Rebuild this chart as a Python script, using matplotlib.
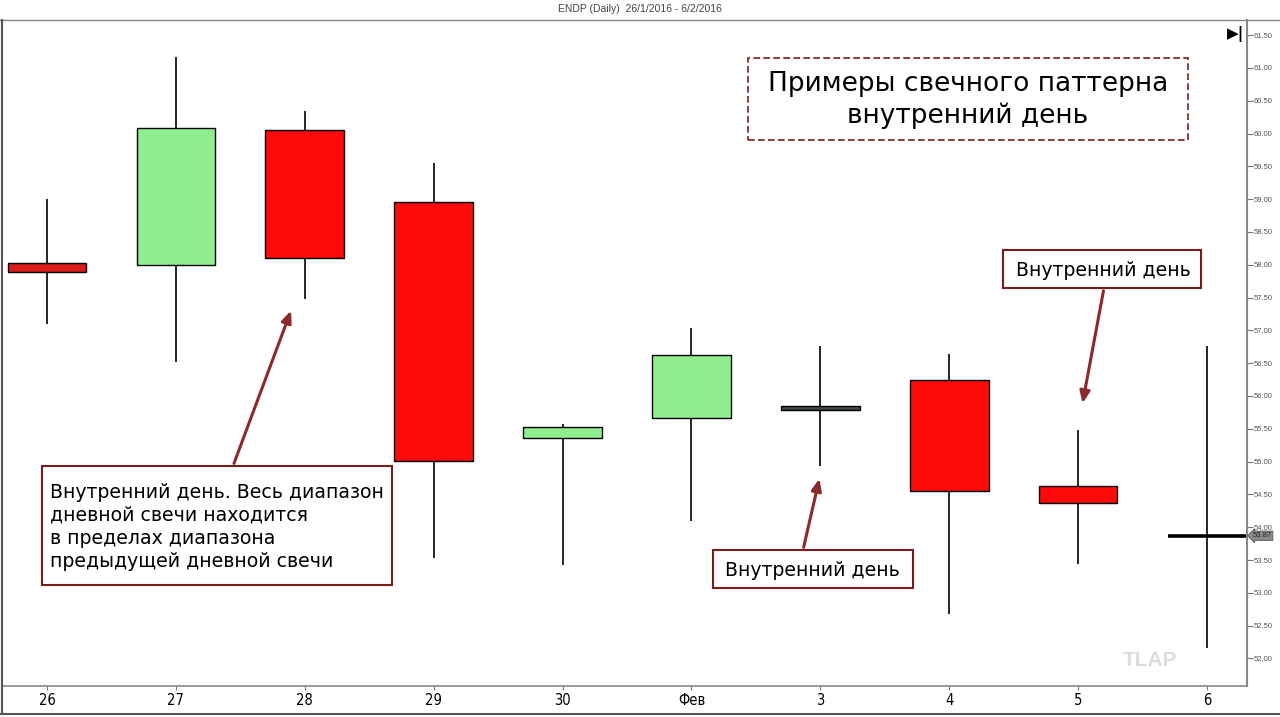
import matplotlib.pyplot as plt
from matplotlib.patches import Rectangle
from matplotlib.transforms import Affine2D
import numpy as np

plt.rcParams['font.family'] = ['Liberation Sans', 'DejaVu Sans']

# daily candles, ENDP 26/1/2016 - 6/2/2016
days = ['26', '27', '28', '29', '30', 'Фев', '3', '4', '5', '6']
opens = [58.02, 57.99, 60.05, 58.95, 55.36, 55.66, 55.84, 56.24, 54.63, 53.87]
closes = [57.89, 60.08, 58.10, 55.01, 55.52, 56.62, 55.79, 54.55, 54.37, 53.87]
highs = [59.00, 61.16, 60.34, 59.55, 55.57, 57.03, 56.76, 56.64, 55.48, 56.76]
lows = [57.09, 56.52, 57.48, 53.53, 53.42, 54.09, 54.93, 52.67, 53.44, 52.16]
last_price = 53.87
y_ticks = np.arange(52.0, 61.51, 0.5)

W, H = 1280, 717
fig = plt.figure(figsize=(W / 100, H / 100), dpi=100)
ax = fig.add_axes([3 / W, 31 / H, 1244 / W, 666 / H])

# pixel coords measured from the top-left corner
T = Affine2D().scale(1, -1).translate(0, H)

x = np.arange(len(days))
w = 0.61
for i in x:
    o, c, h, l = opens[i], closes[i], highs[i], lows[i]
    ax.vlines(i, l, h, color='black', lw=1.2, zorder=1)
    if o == c:
        ax.hlines(o, i - w / 2, i + w / 2, color='black', lw=2.6, zorder=2)
        continue
    if abs(o - c) < 0.06:
        col = '#3d4848'
    elif c > o:
        col = '#90ee90'
    else:
        col = '#ff0a0a' if i > 0 else '#d91c1c'
    ax.bar(i, abs(c - o), bottom=min(o, c), width=w, color=col,
           edgecolor='black', linewidth=1.0, zorder=2)

ax.set_xlim(-0.341, 9.31)
ax.set_ylim(51.58, 61.73)
ax.set_xticks(x)
ax.set_xticklabels(days, fontsize=10.5, family='DejaVu Sans', stretch='condensed')
ax.yaxis.tick_right()
ax.set_yticks(y_ticks)
ax.set_yticklabels(['%.2f' % v for v in y_ticks], fontsize=5.5, color='#555555')
ax.tick_params(axis='y', length=4, width=0.8, color='#777777', pad=1)
ax.tick_params(axis='x', length=3, width=0.8, color='#777777', pad=2)
for s in ['top', 'left']:
    ax.spines[s].set_visible(False)
ax.spines['right'].set_color('#888888')
ax.spines['right'].set_linewidth(1.5)
ax.spines['bottom'].set_color('#888888')
ax.spines['bottom'].set_linewidth(1.2)

# frame lines of the chart window
fig.add_artist(plt.Line2D([0, 1], [1 - 20 / H] * 2, color='#888888', lw=1.0))
fig.add_artist(plt.Line2D([2 / W] * 2, [0.004, 1 - 20 / H], color='#555555', lw=1.5))
fig.add_artist(plt.Line2D([0, 1], [3 / H] * 2, color='#555555', lw=1.5))
fig.text(0.5, 1 - 9 / H, 'ENDP (Daily)  26/1/2016 - 6/2/2016', ha='center', va='center',
         fontsize=7.5, color='#444444')
fig.text(1236 / W, 1 - 34 / H, '▶|', ha='center', va='center', fontsize=11,
         family='DejaVu Sans', weight='bold', color='black')

# last price tag
ax.annotate('%.2f' % last_price, xy=(1.0, last_price), xycoords=('axes fraction', 'data'),
            xytext=(4, 0), textcoords='offset points', va='center', ha='left',
            fontsize=5.5, color='#222222',
            bbox=dict(boxstyle='larrow,pad=0.15', fc='#8a8a8a', ec='#555555', lw=0.6))

# watermark
ax.text(1150, 660, 'TLAP', transform=T, fontsize=15, weight='bold', color='#dcdcdc',
        ha='center', va='center')

dark_red = '#7a1c1c'
note_font = 'DejaVu Sans'


def box(x0, y0, x1, y1, **kw):
    r = Rectangle((x0, y1), x1 - x0, y0 - y1, transform=T, fc='white', ec=dark_red,
                  zorder=5, clip_on=False, **kw)
    ax.add_patch(r)


# title box
box(748, 58, 1188, 140, lw=1.2, ls=(0, (4, 2)))
ax.text(968, 100, 'Примеры свечного паттерна\nвнутренний день', transform=T,
        ha='center', va='center', fontsize=19, linespacing=1.28, family=note_font, zorder=6)

# annotation boxes
box(42, 466, 392, 585, lw=1.5)
ax.text(50, 527, 'Внутренний день. Весь диапазон\nдневной свечи находится\n'
        'в пределах диапазона\nпредыдущей дневной свечи', transform=T,
        ha='left', va='center', fontsize=13.6, linespacing=1.27, family=note_font, zorder=6)
box(713, 550, 913, 588, lw=1.5)
ax.text(812, 570, 'Внутренний день', transform=T, ha='center', va='center',
        fontsize=13.6, family=note_font, zorder=6)
box(1003, 250, 1201, 288, lw=1.5)
ax.text(1103, 270, 'Внутренний день', transform=T, ha='center', va='center',
        fontsize=13.6, family=note_font, zorder=6)

arrow_kw = dict(arrowstyle='-|>,head_length=0.7,head_width=0.3', color='#8b2a2a', lw=2.2)
for (x0, y0), (x1, y1) in [((233, 466), (292, 308)), ((803, 550), (820, 476)),
                           ((1104, 288), (1082, 406))]:
    ax.annotate('', xy=(x1, y1), xycoords=T, xytext=(x0, y0), textcoords=T,
                arrowprops=arrow_kw, zorder=4)

plt.savefig('out.png', dpi=100)
